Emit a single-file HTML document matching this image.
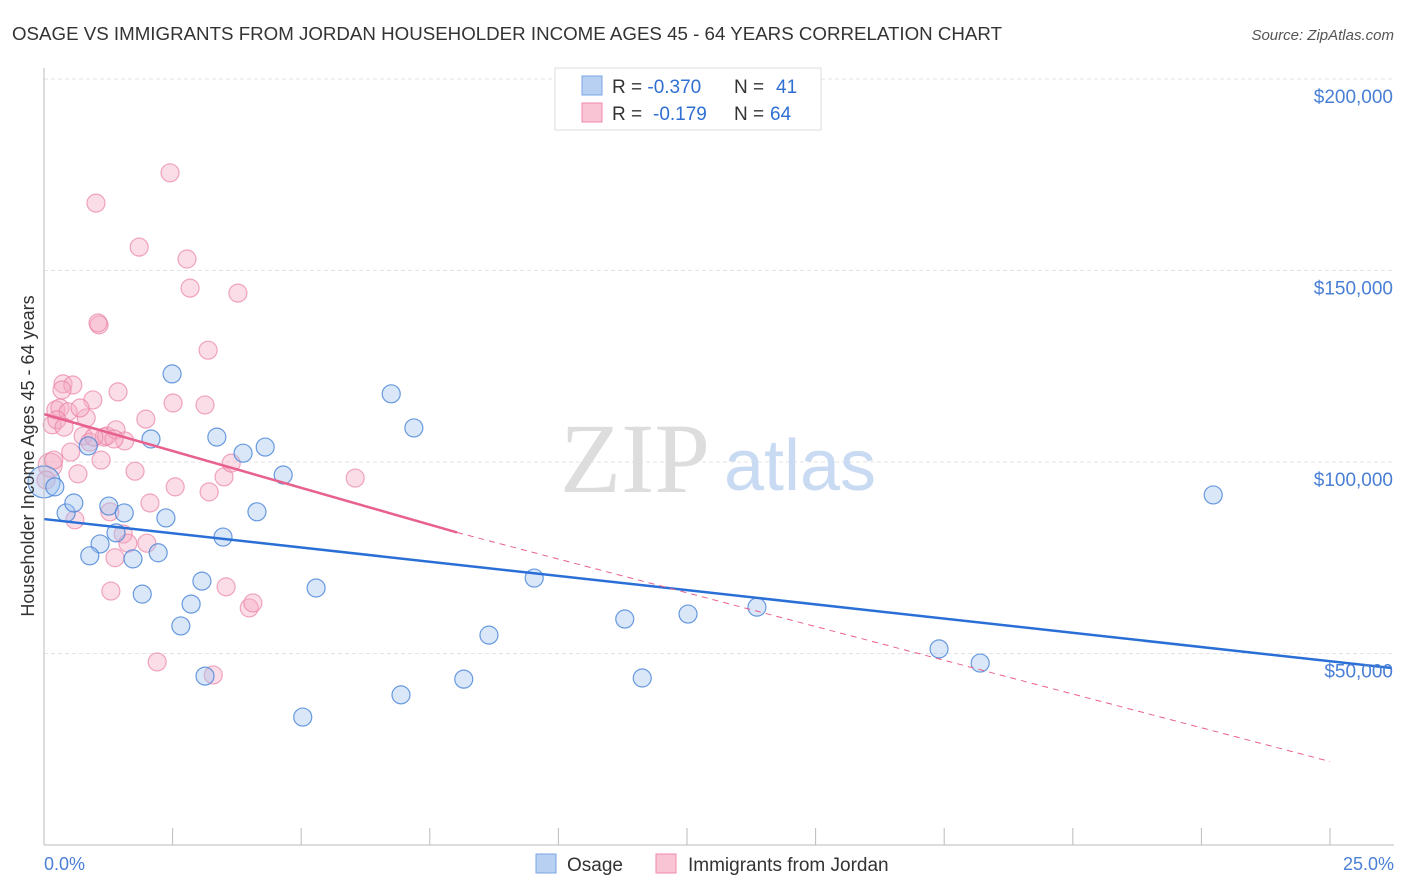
<!DOCTYPE html>
<html><head><meta charset="utf-8"><style>
body{margin:0;background:#fff;font-family:"Liberation Sans",sans-serif;}
svg{display:block}
</style></head><body>
<svg id="chart" width="1406" height="892">
<text x="12" y="40" font-size="18" fill="#333" textLength="990" lengthAdjust="spacingAndGlyphs">OSAGE VS IMMIGRANTS FROM JORDAN HOUSEHOLDER INCOME AGES 45 - 64 YEARS CORRELATION CHART</text>
<text x="1394" y="40" font-size="15" fill="#555" font-style="italic" text-anchor="end">Source: ZipAtlas.com</text>
<g id="grid"></g>
<text x="635" y="492" font-size="100" fill="#ddd" font-family="Liberation Serif,serif" text-anchor="middle">ZIP</text>
<text x="800" y="490" font-size="72" fill="#c9daf3" text-anchor="middle">atlas</text>
<g id="pts"></g>
<g id="lines"></g>
<g id="axes"></g>
<text transform="translate(34,456) rotate(-90)" font-size="18" fill="#333" text-anchor="middle">Householder Income Ages 45 - 64 years</text>
<text x="44" y="870" font-size="18" fill="#4a7fd6">0.0%</text>
<text x="1394" y="870" font-size="18" fill="#4a7fd6" text-anchor="end">25.0%</text>
<g>
<rect x="555" y="68" width="266" height="62" fill="#fff" stroke="#ddd"/>
<rect x="582" y="76" width="20" height="19" fill="#b8d1f3" stroke="#7aa5e6"/>
<rect x="582" y="103" width="20" height="19" fill="#f9c5d5" stroke="#ee8aab"/>
<text x="612" y="93" font-size="19" fill="#333">R = <tspan fill="#2f6fd3">-0.370</tspan><tspan x="734">N = </tspan><tspan x="776" fill="#2f6fd3">41</tspan></text>
<text x="612" y="120" font-size="19" fill="#333">R = <tspan x="653" fill="#2f6fd3">-0.179</tspan><tspan x="734">N = </tspan><tspan x="770" fill="#2f6fd3">64</tspan></text>
</g>
<g>
<rect x="536" y="854" width="20" height="19" fill="#b8d1f3" stroke="#7aa5e6"/>
<text x="567" y="871" font-size="19" fill="#333">Osage</text>
<rect x="656" y="854" width="20" height="19" fill="#f9c5d5" stroke="#ee8aab"/>
<text x="688" y="871" font-size="19" fill="#333">Immigrants from Jordan</text>
</g>
</svg>
<script>
const yTicks=[50,100,150,200];
const yTickLabels=["$50,000","$100,000","$150,000","$200,000"];
const xTicks=[0,2.5,5,7.5,10,12.5,15,17.5,20,22.5,25];
const osageX=[0,0.21,0.43,0.58,0.86,1.09,0.89,1.26,1.40,1.56,1.73,1.91,2.08,2.22,2.37,2.49,2.66,2.86,3.07,3.13,3.36,3.48,3.87,4.14,4.30,4.65,5.03,5.29,6.75,6.94,7.19,8.16,8.65,9.53,11.29,11.63,12.52,13.86,17.40,18.20,22.73];
const osageY=[94.8,93.5,86.7,89.3,104.2,78.6,75.5,88.5,81.5,86.7,74.7,65.5,106.0,76.3,85.4,123.0,57.2,62.9,68.9,44.1,106.5,80.4,102.3,87.0,103.9,96.6,33.4,67.1,117.8,39.2,108.9,43.3,54.8,69.7,59.0,43.6,60.3,62.1,51.2,47.5,91.4];
const jordanX=[0.12,0.16,0.23,0.31,0.37,0.47,0.52,0.56,0.60,0.66,0.76,0.82,0.89,0.95,1.01,1.07,1.11,1.17,1.22,1.30,1.38,1.40,1.44,1.54,1.57,1.63,1.77,1.85,1.98,2.00,2.06,2.20,2.45,2.51,2.55,2.78,2.84,3.13,3.19,3.21,3.29,3.50,3.54,3.64,3.77,3.99,4.06,6.05,0.04,0.25,0.39,0.70,0.97,1.28,1.36,1.05,0.19,0.35];
const jordanY=[99.2,109.7,113.6,114.1,120.4,113.1,102.6,120.1,84.9,96.9,106.8,111.5,105.2,116.2,167.6,135.8,100.5,106.5,106.8,66.3,75.0,108.4,118.3,81.2,105.5,78.8,97.6,156.1,111.2,78.8,89.3,47.8,175.5,115.4,93.5,153.0,145.4,114.9,129.2,92.2,44.4,96.1,67.4,99.7,144.1,61.9,63.2,95.8,95.3,111.0,109.1,114.1,106.5,87.0,106.0,136.3,100.5,118.8];
const osageTrend=[[0,85.1],[26.2,46.2]];
const jordanTrend=[[0,112.5],[8.03,81.6],[25,21.8]];
const NS="http://www.w3.org/2000/svg";
const X=v=>44+v*51.44, Y=v=>79+(200-v)*3.83;
function mk(t,a,p){const e=document.createElementNS(NS,t);for(const k in a)e.setAttribute(k,a[k]);p.appendChild(e);return e;}
const grid=document.getElementById('grid'),axes=document.getElementById('axes');
yTicks.forEach((t,i)=>{
 const l=mk('line',{x1:44,x2:1394,y1:Y(t),y2:Y(t),stroke:'#e3e3e3','stroke-dasharray':'4,3'},grid);
 
 
 const tx=mk('text',{x:1393,y:Y(t)+24,'font-size':19,fill:'#4a7fd6','text-anchor':'end'},axes);
 tx.textContent=yTickLabels[i];
 
 
});
mk('line',{x1:44,x2:44,y1:68,y2:845,stroke:'#bbb'},axes);
mk('line',{x1:44,x2:1394,y1:845,y2:845,stroke:'#bbb'},axes);
xTicks.forEach(t=>{
 const l=mk('line',{x1:X(t),x2:X(t),y1:828,y2:845,stroke:'#bbb'},axes);
 
 
});
const pts=document.getElementById('pts');
jordanX.forEach((x,i)=>{
 const c=mk('circle',{cx:X(x),cy:Y(jordanY[i]),r:i==0?12:9,fill:'rgba(246,170,195,0.4)',stroke:'rgba(233,130,165,0.7)','stroke-width':1.2},pts);
 
 
});
osageX.forEach((x,i)=>{
 const c=mk('circle',{cx:X(x),cy:Y(osageY[i]),r:i==0?16:9,fill:'rgba(160,195,240,0.4)',stroke:'rgba(70,130,215,0.8)','stroke-width':1.2},pts);
 
 
});
const lines=document.getElementById('lines');
let l=mk('line',{x1:X(osageTrend[0][0]),y1:Y(osageTrend[0][1]),x2:X(osageTrend[1][0]),y2:Y(osageTrend[1][1]),stroke:'#2a6fd6','stroke-width':2.5},lines);


l=mk('line',{x1:X(jordanTrend[0][0]),y1:Y(jordanTrend[0][1]),x2:X(jordanTrend[1][0]),y2:Y(jordanTrend[1][1]),stroke:'#e8608c','stroke-width':2.5},lines);


l=mk('line',{x1:X(jordanTrend[1][0]),y1:Y(jordanTrend[1][1]),x2:X(jordanTrend[2][0]),y2:Y(jordanTrend[2][1]),stroke:'#e8608c','stroke-width':1,'stroke-dasharray':'6,5'},lines);


</script>
</body></html>
